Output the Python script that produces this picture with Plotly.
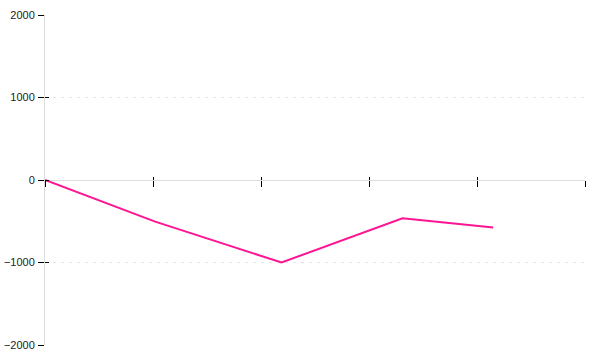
import plotly.graph_objects as go

x_vals = [0, 1.02, 2.19, 3.31, 4.15]
y_vals = [0, -505, -1000, -465, -575]
x_ticks = [0, 1, 2, 3, 4, 5]
y_ticks = [-2000, -1000, 0, 1000, 2000]
y_labels = ["\u22122000", "\u22121000", "0", "1000", "2000"]

fig = go.Figure()
fig.add_trace(go.Scatter(x=x_vals, y=y_vals, mode="lines",
                         line=dict(color="#ff1493", width=2), showlegend=False))
fig.add_trace(go.Scatter(x=[x_ticks[0]], y=[0], xaxis="x2", yaxis="y2",
                         mode="markers", marker=dict(opacity=0), showlegend=False,
                         hoverinfo="skip"))

font = dict(family="Liberation Sans", size=11, color="#222")
fig.update_layout(
    width=600, height=360,
    margin=dict(l=45, r=15, t=15, b=15, autoexpand=False),
    paper_bgcolor="white", plot_bgcolor="white",
    font=font,
    xaxis=dict(range=[0, 5], tickvals=x_ticks, showticklabels=False,
               ticks="outside", ticklen=6, tickcolor="black", tickwidth=1,
               showline=False, showgrid=False, zeroline=False,
               anchor="free", position=0.5, automargin=False),
    yaxis=dict(range=[-2000, 2000], tickvals=y_ticks, ticktext=y_labels,
               ticks="outside", ticklen=6, tickcolor="black", tickwidth=1,
               showline=True, linecolor="#dddddd", linewidth=1,
               showgrid=True, gridcolor="#e6e6e6", griddash="3px,5px",
               zeroline=True, zerolinecolor="#dddddd", zerolinewidth=1,
               tickfont=font, ticklabelstandoff=1, automargin=False),
    xaxis2=dict(range=[0, 5], tickvals=x_ticks, showticklabels=False,
                ticks="inside", ticklen=3, tickcolor="black", tickwidth=1,
                showline=False, showgrid=False, zeroline=False,
                overlaying="x", anchor="free", position=0.5, automargin=False),
    yaxis2=dict(range=[-2000, 2000], tickvals=y_ticks, showticklabels=False,
                ticks="inside", ticklen=4, tickcolor="black", tickwidth=1,
                showline=False, showgrid=False, zeroline=False,
                overlaying="y", anchor="x", automargin=False),
)
fig.write_html("out.html")
